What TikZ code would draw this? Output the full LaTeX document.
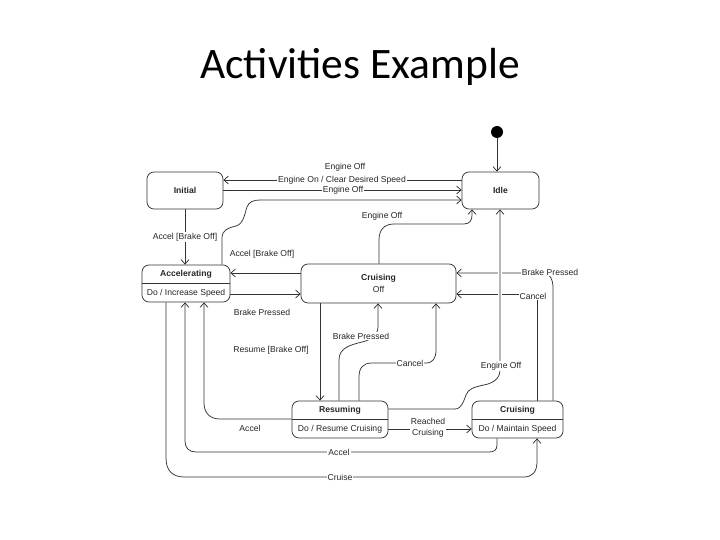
\documentclass[tikz,border=0pt]{standalone}
\usepackage{fontspec}
\setmainfont{Liberation Sans}
\newfontfamily\titlefont{Carlito}
\usetikzlibrary{arrows.meta}
\begin{document}
\begin{tikzpicture}[x=1pt,y=-1pt,
 line/.style={draw=black!80, line width=0.75pt},
 arr/.style={line, -{Straight Barb[length=4.5pt,width=8pt]}},
 state/.style={line, rounded corners=7pt, inner sep=0pt, font=\fontsize{8.6}{10}\selectfont\bfseries, text=black!85},
 lab/.style={font=\fontsize{8.6}{10.5}\selectfont, text=black!85, inner sep=1pt},
 wlab/.style={lab, fill=white},
 sname/.style={font=\fontsize{8.6}{10}\selectfont\bfseries, text=black!85, inner sep=0pt},
 stxt/.style={font=\fontsize{8.6}{10}\selectfont, text=black!85, inner sep=0pt},
]
\useasboundingbox (0,0) rectangle (720,540);
\node[font=\titlefont\fontsize{43.5}{43.5}\selectfont, anchor=base] (title) at (360,79) {Activities Example};

% states
\node[circle, fill=black, minimum size=12pt, inner sep=0pt] (dot) at (497,132) {};
\node[state, minimum width=76pt, minimum height=37pt] (init) at (185,190.5) {Initial};
\node[state, minimum width=77pt, minimum height=37pt] (idle) at (500.5,190.5) {Idle};
\node[state, minimum width=88pt, minimum height=37pt] (acc) at (186,283.5) {};
\draw[line] (acc.west) -- (acc.east);
\node[sname] (accn) at (186,274) {Accelerating};
\node[stxt] (acct) at (186,293) {Do / Increase Speed};
\node[state, minimum width=155pt, minimum height=39pt] (coff) at (378.5,283.5) {};
\node[sname] (coffn) at (378.5,278) {Cruising};
\node[stxt] (cofft) at (378.5,289) {Off};
\node[state, minimum width=96pt, minimum height=37pt] (res) at (340,419.5) {};
\draw[line] (res.west) -- (res.east);
\node[sname] (resn) at (340,410) {Resuming};
\node[stxt] (rest) at (340,429) {Do / Resume Cruising};
\node[state, minimum width=91pt, minimum height=37pt] (cru) at (517.5,419.5) {};
\draw[line] (cru.west) -- (cru.east);
\node[sname] (crun) at (517.5,410) {Cruising};
\node[stxt] (crut) at (517.5,429) {Do / Maintain Speed};

% transitions
\draw[arr] (dot) -- (dot |- idle.north);
\draw[arr] (idle.west |- 0,180) -- (init.east |- 0,180);
\draw[arr] (init.east |- 0,190) -- (idle.west |- 0,190);
\draw[arr] (acc.north -| 222,0) -- (222,238) .. controls (222,230) and (228,228) .. (236,226) .. controls (244,224) and (245,212) .. (247,207) .. controls (249,202) and (253,200) .. (260,200) -- (idle.west |- 0,200);
\draw[arr] (init.south) -- (acc.north -| init.south);
\draw[arr] (coff.west |- 0,273) -- (acc.east |- 0,273);
\draw[arr] (acc.east |- 0,294) -- (coff.west |- 0,294);
\draw[arr] (coff.south -| 320,0) -- (res.north -| 320,0);
\draw[arr] (res.north -| 339,0) -- (339,360) .. controls (339,348) and (350,345) .. (362,342) .. controls (374,339) and (378,334) .. (378,326) -- (coff.south -| 378,0);
\draw[arr] (res.north -| 359,0) -- (359,377) .. controls (359,368) and (363,363) .. (372,363) -- (426,363) .. controls (433,363) and (436,358) .. (436,350) -- (coff.south -| 436,0);
\draw[arr] (coff.north -| 379,0) -- (379,240) .. controls (379,230) and (384,224) .. (394,224) -- (464,224) .. controls (470,224) and (472,220) .. (472,215) -- (idle.south -| 472,0);
\draw[arr] (cru.north -| 553,0) -- (553,288) .. controls (553,280) and (550,273) .. (544,273) -- (coff.east |- 0,273);
\draw[arr] (cru.north -| 537,0) -- (537,294) -- (coff.east |- 0,294);
\draw[white, line width=3.5pt] (500,266) -- (500,301);
\draw[arr] (res.east |- 0,409) -- (455,409) .. controls (462,409) and (464,400) .. (466,395) .. controls (468,389) and (474,387) .. (484,385) .. controls (494,383) and (500,378) .. (500,370) -- (idle.south -| 500,0);
\draw[arr] (cru.south -| 497,0) -- (497,445) .. controls (497,450) and (494,452) .. (489,452) -- (196,452) .. controls (189,452) and (185,448) .. (185,441) -- (acc.south -| 185,0);
\draw[arr] (acc.south -| 166,0) -- (166,458) .. controls (166,470) and (172,477) .. (184,477) -- (524,477) .. controls (532,477) and (537,472) .. (537,462) -- (cru.south -| 537,0);
\draw[arr] (res.west |- 0,419) -- (220,419) .. controls (210,419) and (204,413) .. (204,403) -- (acc.south -| 204,0);
\draw[arr] (res.east |- 0,429) -- (cru.west |- 0,429);

% labels
\node[lab] (l1) at (345,167) {Engine Off};
\node[wlab] (l2) at (342,180) {Engine On / Clear Desired Speed};
\node[wlab] (l3) at (343,190) {Engine Off};
\node[wlab] (l4) at (185,237) {Accel [Brake Off]};
\node[lab] (l5) at (262,254) {Accel [Brake Off]};
\node[lab] (l6) at (382,216) {Engine Off};
\node[lab] (l7) at (262,312) {Brake Pressed};
\node[lab] (l8) at (271,350) {Resume [Brake Off]};
\node[wlab] (l9) at (361,336) {Brake Pressed};
\node[wlab] (l10) at (410,363) {Cancel};
\node[wlab] (l11) at (550,272) {Brake Pressed};
\node[wlab] (l12) at (533,296) {Cancel};
\node[wlab] (l13) at (501,366) {Engine Off};
\node[lab] (l14) at (250,428) {Accel};
\node[wlab, align=center] (l15) at (428,428) {Reached\\Cruising};
\node[wlab] (l16) at (339,452) {Accel};
\node[wlab] (l17) at (340,477) {Cruise};
\end{tikzpicture}
\end{document}
